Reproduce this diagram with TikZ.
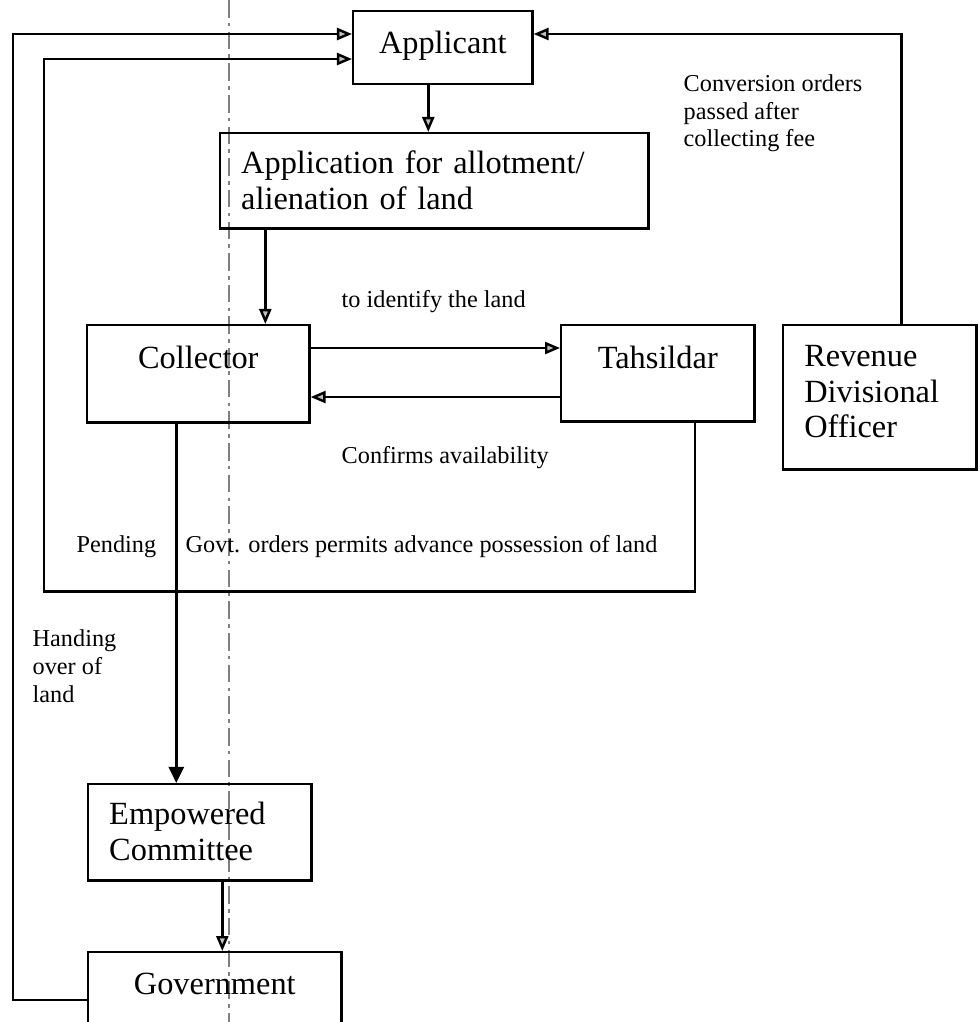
\documentclass[tikz,border=0pt]{standalone}
\usepackage{fontspec}
\setmainfont{Liberation Serif}
\usetikzlibrary{arrows.meta}

\begin{document}
\begin{tikzpicture}[x=0.01cm, y=-0.01cm,
		>={Triangle[length=0.15cm, width=0.12cm, fill=gray!50]},
		box/.style={draw, line width=0.7pt, inner sep=0pt, font=\fontsize{9.2}{10.2}\selectfont},
		txtbox/.style={box, align=left, inner xsep=0.21cm},
		lbl/.style={inner sep=0pt, font=\fontsize{6.9}{7.9}\selectfont, align=left},
		flow/.style={line width=0.7pt, ->},
		handover/.style={line width=0.7pt, -{Triangle[length=0.16cm, width=0.15cm]}}]
		\useasboundingbox (0,0) rectangle (980,1022);
		\clip (0,0) rectangle (980,1022);
		\draw [gray, line width=0.3pt, dash pattern=on 5pt off 1.5pt on 1pt off 1.5pt] (229,0) -- (229,1022);

		\node [box, anchor=north west, minimum width=1.79cm, text height=0.42cm, text depth=0.31cm] (appl) at (352,10) {Applicant};
		\node [txtbox, anchor=north west, text width=3.86cm, text height=0.40cm, text depth=0.55cm] (appn) at (219,132) {Application for allotment/\\alienation of land};
		\node [box, anchor=north west, minimum width=2.22cm, text height=0.43cm, text depth=0.54cm] (coll) at (86,324) {Collector};
		\node [box, anchor=north west, minimum width=1.93cm, text height=0.43cm, text depth=0.53cm] (tah) at (560,324) {Tahsildar};
		\node [txtbox, anchor=north west, text width=1.51cm, text height=0.41cm, text depth=1.03cm] (rdo) at (782,324) {Revenue\\Divisional\\Officer};
		\node [txtbox, anchor=north west, text width=1.81cm, text height=0.40cm, text depth=0.56cm] (emp) at (87,783) {Empowered\\Committee};
		\node [box, anchor=north west, minimum width=2.53cm, text height=0.42cm, text depth=0.8cm] (gov) at (87,951) {Government};

		\draw [flow] ([xshift=-0.145cm]appl.south) -- ([xshift=-0.145cm]appl.south |- appn.north);
		\draw [flow] ([xshift=0.67cm]coll.north |- appn.south) -- ([xshift=0.67cm]coll.north);
		\draw [flow] ([yshift=-0.24cm]coll.north east) -- ([yshift=-0.24cm]tah.north west);
		\draw [flow] ([yshift=-0.73cm]tah.north west) -- ([yshift=-0.73cm]coll.north east);
		\draw [flow] ([xshift=0.37cm]tah.south) -- ++(0,169) -- ++(-651,0) |- ([yshift=-0.49cm]appl.north west);
		\draw [flow] ([yshift=-0.49cm]gov.north west) -- ++(-74,0) |- ([yshift=-0.24cm]appl.north west);
		\draw [flow] ([xshift=0.215cm]rdo.north) |- ([yshift=-0.24cm]appl.north east);
		\draw [handover] ([xshift=-0.22cm]coll.south) -- ([xshift=-0.22cm]coll.south |- emp.north);
		\draw [flow] ([xshift=0.225cm]emp.south) -- ([xshift=0.225cm]emp.south |- gov.north);

		\node [lbl, anchor=base west] (conv) at (683,147) {Conversion orders\\passed after\\collecting fee};
		\node [lbl, anchor=base west] (ident) at (341,308) {to identify the land};
		\node [lbl, anchor=base west] (conf) at (341,463) {Confirms availability};
		\node [lbl, anchor=base west] (pend) at (76,552) {Pending};
		\node [lbl, anchor=base west] (govt) at (185,552) {Govt. orders permits advance possession of land};
		\node [lbl, anchor=base west] (hand) at (32,702) {Handing\\over of\\land};
	\end{tikzpicture}
\end{document}
